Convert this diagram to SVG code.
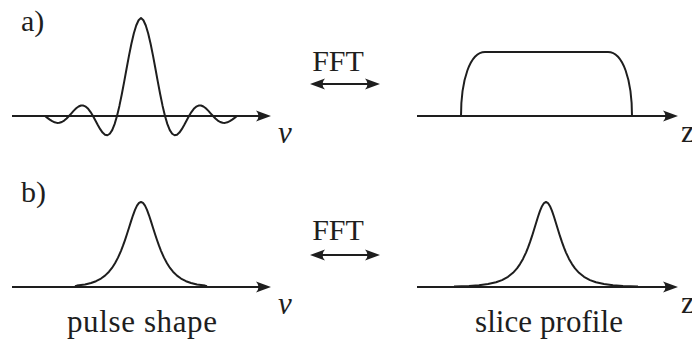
<svg xmlns="http://www.w3.org/2000/svg" width="692" height="341" viewBox="0 0 692 341">
<style>
.ln{fill:none;stroke:#1e1e1e;stroke-width:2;stroke-linejoin:round;stroke-linecap:butt}
.ax{fill:none;stroke:#1e1e1e;stroke-width:2;marker-end:url(#ah)}
.dbl{fill:none;stroke:#1e1e1e;stroke-width:2;marker-start:url(#ah);marker-end:url(#ah)}
.t{fill:#1e1e1e;font-family:Times New Roman, Liberation Serif, Tinos, Noto Serif, DejaVu Serif, serif}
.lab{font-size:30px}
.cap{font-size:31px}
.var{font-size:31px;font-style:italic}
</style>
<defs>
<marker id="ah" markerUnits="userSpaceOnUse" markerWidth="16" markerHeight="12" refX="7" refY="6" orient="auto-start-reverse">
<path d="M0,0.5 L15,6 L0,11.5 Q5,6 0,0.5Z" fill="#1e1e1e"/>
</marker>
</defs>
<g id="label-a"><text class="t lab" x="21" y="31">a)</text></g>
<g id="label-b"><text class="t lab" x="21" y="202">b)</text></g>
<g id="connectors">
<path class="ax" d="M12,116 H263"/>
<path class="ax" d="M417,116 H670"/>
<path class="ax" d="M12,287 H263"/>
<path class="ax" d="M417,287 H670"/>
<path class="dbl" d="M318,84 H372"/>
<path class="dbl" d="M318,255 H372"/>
</g>
<g id="fft-top"><text class="t lab" x="338" y="71" text-anchor="middle">FFT</text></g>
<g id="fft-bottom"><text class="t lab" x="338" y="240" text-anchor="middle">FFT</text></g>
<g id="sinc">
<polyline class="ln" points="45,116 47.4,117.85 49.8,119.63 52.2,121.18 54.6,122.31 57,122.89 59.4,122.8 61.8,122.01 64.2,120.54 66.6,118.48 69,116 71.4,113.3 73.8,110.64 76.2,108.29 78.6,106.52 81,105.55 83.4,105.57 85.8,106.67 88.2,108.86 90.6,112.04 93,116 95.4,120.45 97.8,124.99 100.2,129.2 102.6,132.61 105,134.77 107.4,135.26 109.8,133.77 112.2,130.09 114.6,124.14 117,116 119.4,105.92 121.8,94.27 124.2,81.59 126.6,68.48 129,55.64 131.4,43.76 133.8,33.52 136.2,25.51 138.6,20.23 141,18 143.4,20.23 145.8,25.51 148.2,33.52 150.6,43.76 153,55.64 155.4,68.48 157.8,81.59 160.2,94.27 162.6,105.92 165,116 167.4,124.14 169.8,130.09 172.2,133.77 174.6,135.26 177,134.77 179.4,132.61 181.8,129.2 184.2,124.99 186.6,120.45 189,116 191.4,112.04 193.8,108.86 196.2,106.67 198.6,105.57 201,105.55 203.4,106.52 205.8,108.29 208.2,110.64 210.6,113.3 213,116 215.4,118.48 217.8,120.54 220.2,122.01 222.6,122.8 225,122.89 227.4,122.31 229.8,121.18 232.2,119.63 234.6,117.85 237,116"/>
<text class="t var" x="278" y="143">ν</text>
</g>
<g id="rect-profile">
<path class="ln" d="M461,116 C461,80 470,52 485,52 H608 C623,52 632,80 632,116"/>
<text class="t cap" x="681" y="142">z</text>
</g>
<g id="pulse-shape">
<polyline class="ln" points="75,286.2 77,285.6 85,284.45 91,283 96,281.19 101,278.56 105,275.63 109,271.7 112,267.93 115,263.29 118,257.64 121,250.87 123,245.7 125,240.06 127,234 129,227.69 131,221.35 133,215.3 135,209.94 137,205.69 139,202.95 141,202 143,202.95 145,205.69 147,209.94 149,215.3 151,221.35 153,227.69 155,234 157,240.06 159,245.7 161,250.87 164,257.64 167,263.29 170,267.93 173,271.7 177,275.63 181,278.56 186,281.19 191,283 197,284.45 205,285.6 207,286.2"/>
<text class="t var" x="278" y="314">ν</text>
<text class="t cap" x="142" y="332" text-anchor="middle" textLength="150" lengthAdjust="spacing">pulse shape</text>
</g>
<g id="slice-profile">
<polyline class="ln" points="454,286.5 469,286 479,285.27 488,284.09 496,282.28 502,280.11 508,276.83 513,272.8 517,268.36 520,264.12 523,258.9 526,252.56 528,247.64 530,242.17 532,236.19 534,229.73 536,223.22 538,216.79 540,210.93 542,206.18 544,203.08 546,202 548,203.08 550,206.18 552,210.93 554,216.79 556,223.22 558,229.73 560,236.19 562,242.17 564,247.64 566,252.56 569,258.9 572,264.12 575,268.36 579,272.8 584,276.83 590,280.11 596,282.28 604,284.09 613,285.27 623,286 638,286.5"/>
<text class="t cap" x="681" y="313">z</text>
<text class="t cap" x="549" y="332" text-anchor="middle" textLength="148" lengthAdjust="spacing">slice profile</text>
</g>
</svg>
